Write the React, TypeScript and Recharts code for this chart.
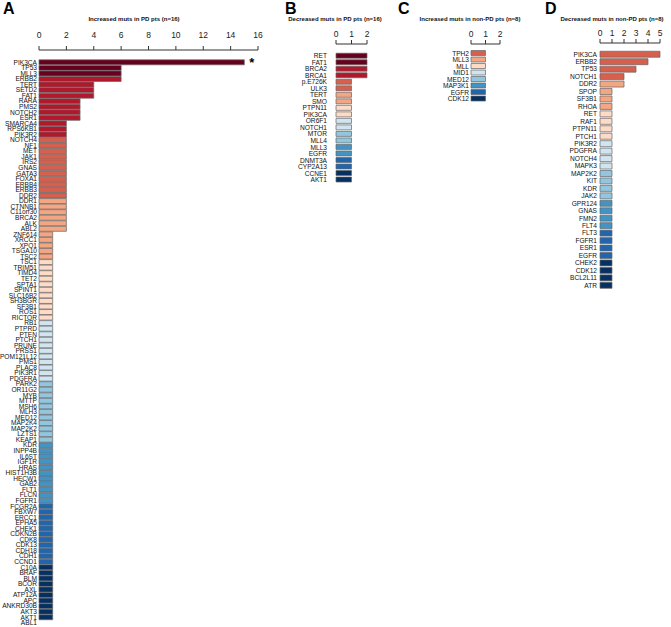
import { BarChart, Bar, XAxis, YAxis, Cell, LabelList } from 'recharts';

// Panel A: increased mutations in PD patients (n=16)
const genesA = [
  'PIK3CA', 'TP53', 'MLL3', 'ERBB2', 'TERT', 'SETD2', 'FAT1', 'RARA', 'PMS2', 'NOTCH2', 'ESR1',
  'SMARCA4', 'RPS6KB1', 'PIK3R2', 'NOTCH4', 'NF1', 'MET', 'JAK1', 'IRS2', 'GNAS', 'GATA3', 'FOXA1',
  'ERBB4', 'ERBB3', 'DDR2', 'DDR1', 'CTNNB1', 'C11orf30', 'BRCA2', 'ALK', 'ABL2', 'ZNF614', 'XRCC1',
  'XPO1', 'TSGA10', 'TSC2', 'TSC1', 'TRIM51', 'TIMD4', 'TET2', 'SPTA1', 'SPINT1', 'SLC16B2', 'SH3BGR',
  'SF3B1', 'ROS1', 'RICTOR', 'RB1', 'PTPRD', 'PTEN', 'PTCH1', 'PRUNE', 'PRSS1', 'POM121L12', 'PMS1',
  'PLAC8', 'PIK3R1', 'PDGFRA', 'PARK2', 'OR11G2', 'MYB', 'MTTP', 'MSH6', 'MLH3', 'MED12', 'MAP2K4',
  'MAP2K2', 'LZTS1', 'KEAP1', 'KDR', 'INPP4B', 'IL6ST', 'IGF1R', 'HRAS', 'HIST1H3B', 'HECW1', 'GAB2',
  'FLT1', 'FLCN', 'FGFR1', 'FCGR2A', 'FBXW7', 'ERCC1', 'EPHA5', 'CHEK1', 'CDKN2B', 'CDK8', 'CDK13',
  'CDH18', 'CDH1', 'CCND1', 'C10A', 'BRAF', 'BLM', 'BCOR', 'AXL', 'ATP12A', 'APC', 'ANKRD30B', 'AKT3',
  'AKT1', 'ABL1',
];
const valuesA = [
  15, 6, 6, 6, 4, 4, 4, 3, 3, 3, 3,
  2, 2, 2, 2, 2, 2, 2, 2, 2, 2, 2,
  2, 2, 2, 2, 2, 2, 2, 2, 2, 1, 1,
  1, 1, 1, 1, 1, 1, 1, 1, 1, 1, 1,
  1, 1, 1, 1, 1, 1, 1, 1, 1, 1, 1,
  1, 1, 1, 1, 1, 1, 1, 1, 1, 1, 1,
  1, 1, 1, 1, 1, 1, 1, 1, 1, 1, 1,
  1, 1, 1, 1, 1, 1, 1, 1, 1, 1, 1,
  1, 1, 1, 1, 1, 1, 1, 1, 1, 1, 1,
  1, 1,
];
const starredA = ['PIK3CA'];
const ticksA = [0, 2, 4, 6, 8, 10, 12, 14, 16];

// Panel B: decreased mutations in PD patients (n=16)
const genesB = [
  'RET', 'FAT1', 'BRCA2', 'BRCA1', 'p.E726K', 'ULK3', 'TERT', 'SMO', 'PTPN11', 'PIK3CA',
  'OR6F1', 'NOTCH1', 'MTOR', 'MLL4', 'MLL3', 'EGFR', 'DNMT3A', 'CYP2A13', 'CCNE1', 'AKT1',
];
const valuesB = [2, 2, 2, 2, 1, 1, 1, 1, 1, 1, 1, 1, 1, 1, 1, 1, 1, 1, 1, 1];
const ticksB = [0, 1, 2];

// Panel C: increased mutations in non-PD patients (n=8)
const genesC = ['TPH2', 'MLL3', 'MLL', 'MID1', 'MED12', 'MAP3K1', 'EGFR', 'CDK12'];
const valuesC = [1, 1, 1, 1, 1, 1, 1, 1];
const ticksC = [0, 1, 2];

// Panel D: decreased mutations in non-PD patients (n=8)
const genesD = [
  'PIK3CA', 'ERBB2', 'TP53', 'NOTCH1', 'DDR2', 'SPOP', 'SF3B1', 'RHOA', 'RET', 'RAF1', 'PTPN11',
  'PTCH1', 'PIK3R2', 'PDGFRA', 'NOTCH4', 'MAPK3', 'MAP2K2', 'KIT', 'KDR', 'JAK2', 'GPR124', 'GNAS',
  'FMN2', 'FLT4', 'FLT3', 'FGFR1', 'ESR1', 'EGFR', 'CHEK2', 'CDK12', 'BCL2L11', 'ATR',
];
const valuesD = [5, 4, 3, 2, 2, 1, 1, 1, 1, 1, 1, 1, 1, 1, 1, 1, 1, 1, 1, 1, 1, 1, 1, 1, 1, 1, 1, 1, 1, 1, 1, 1];
const ticksD = [0, 1, 2, 3, 4, 5];

// RdBu without the white middle
const PAL = ['#67001f', '#b2182b', '#d6604d', '#f4a582', '#fddbc7', '#d1e5f0', '#92c5de', '#4393c3', '#2166ac', '#053061'];

function barColor(i: number, n: number) {
  const s = Math.ceil(n / 10);
  return PAL[Math.max(0, 9 - Math.floor((n - 1 - i) / s))];
}

const FONT = '"Liberation Sans", Arial, sans-serif';

interface PanelProps {
  genes: string[];
  values: number[];
  ticks: number[];
  starred?: string[];
  left: number;
  width: number;
  height: number;
  yWidth: number;
  marginTop: number;
  marginRight: number;
  marginBottom: number;
  padTop: number;
  xTickMargin: number;
  yTickMargin: number;
  gap: string;
}

function Panel(p: PanelProps) {
  const data = p.genes.map((g, i) => ({
    gene: g,
    count: p.values[i],
    star: p.starred && p.starred.includes(g) ? '*' : '',
  }));
  const max = p.ticks[p.ticks.length - 1];
  return (
    <div style={{ position: 'absolute', left: p.left, top: 0 }}>
      <BarChart
        width={p.width}
        height={p.height}
        data={data}
        layout="vertical"
        barCategoryGap={p.gap}
        margin={{ top: p.marginTop, right: p.marginRight, bottom: p.marginBottom, left: 0 }}
      >
        <XAxis
          type="number"
          orientation="top"
          domain={[0, max]}
          ticks={p.ticks}
          height={20}
          tickSize={4}
          tickMargin={p.xTickMargin}
          stroke="#333"
          tick={{ fontSize: 8.5, fill: '#222', fontFamily: FONT }}
        />
        <YAxis
          type="category"
          dataKey="gene"
          width={p.yWidth}
          interval={0}
          axisLine={false}
          tickLine={false}
          tickSize={0}
          tickMargin={p.yTickMargin}
          padding={{ top: p.padTop, bottom: 0 }}
          tick={{ fontSize: 6.6, fill: '#111', fontFamily: FONT }}
        />
        <Bar dataKey="count" stroke="#666" strokeWidth={0.7} isAnimationActive={false}>
          {data.map((d, i) => (
            <Cell key={d.gene} fill={barColor(i, data.length)} />
          ))}
          {p.starred && (
            <LabelList
              dataKey="star"
              position="right"
              offset={5}
              style={{ fontSize: 13, fontWeight: 'bold', fill: '#000', fontFamily: FONT }}
            />
          )}
        </Bar>
      </BarChart>
    </div>
  );
}

const titleStyle = {
  position: 'absolute' as const,
  top: 15,
  fontSize: 6,
  lineHeight: '8px',
  fontWeight: 'bold' as const,
  whiteSpace: 'nowrap' as const,
  transform: 'translateX(-50%)',
  color: '#111',
};

const letterStyle = {
  position: 'absolute' as const,
  top: 0,
  fontSize: 16,
  lineHeight: '17px',
  fontWeight: 'bold' as const,
  color: '#000',
};

export default function App() {
  return (
    <div
      style={{
        position: 'absolute',
        left: 0,
        top: 0,
        width: 671,
        height: 627,
        background: '#fff',
        fontFamily: FONT,
        overflow: 'hidden',
      }}
    >
      <div style={{ ...letterStyle, left: 3 }}>A</div>
      <div style={{ ...letterStyle, left: 285 }}>B</div>
      <div style={{ ...letterStyle, left: 398 }}>C</div>
      <div style={{ ...letterStyle, left: 545 }}>D</div>

      <div style={{ ...titleStyle, left: 134 }}>Increased muts in PD pts (n=16)</div>
      <div style={{ ...titleStyle, left: 335 }}>Decreased muts in PD pts (n=16)</div>
      <div style={{ ...titleStyle, left: 470 }}>Increased muts in non-PD pts (n=8)</div>
      <div style={{ ...titleStyle, left: 612 }}>Decreased muts in non-PD pts (n=8)</div>

      <Panel
        genes={genesA}
        values={valuesA}
        ticks={ticksA}
        starred={starredA}
        left={0}
        width={280}
        height={627}
        yWidth={39}
        marginTop={30}
        marginRight={22}
        marginBottom={1.5}
        padTop={9.5}
        xTickMargin={8}
        yTickMargin={2}
        gap="6%"
      />
      <Panel
        genes={genesB}
        values={valuesB}
        ticks={ticksB}
        left={276}
        width={101}
        height={190}
        yWidth={60}
        marginTop={24}
        marginRight={10}
        marginBottom={7}
        padTop={8.7}
        xTickMargin={3}
        yTickMargin={9}
        gap="8%"
      />
      <Panel
        genes={genesC}
        values={valuesC}
        ticks={ticksC}
        left={420}
        width={90}
        height={110}
        yWidth={51}
        marginTop={24}
        marginRight={10}
        marginBottom={8}
        padTop={6}
        xTickMargin={3}
        yTickMargin={2}
        gap="8%"
      />
      <Panel
        genes={genesD}
        values={valuesD}
        ticks={ticksD}
        left={545}
        width={126}
        height={295}
        yWidth={55}
        marginTop={23}
        marginRight={11}
        marginBottom={6}
        padTop={7.5}
        xTickMargin={3}
        yTickMargin={3}
        gap="10%"
      />
    </div>
  );
}
